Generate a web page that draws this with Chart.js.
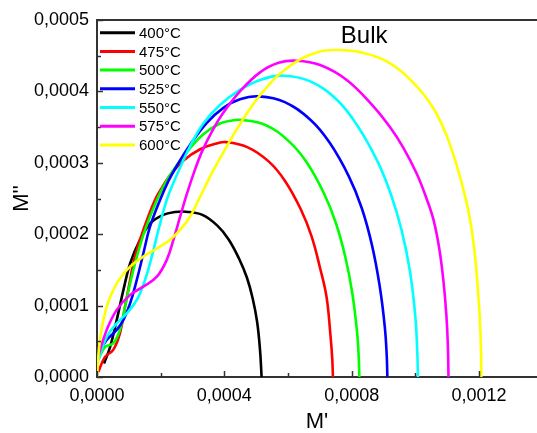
<!DOCTYPE html>
<html><head><meta charset="utf-8">
<script src="https://cdn.jsdelivr.net/npm/chart.js@4.4.1/dist/chart.umd.min.js"></script>
<style>html,body{margin:0;padding:0;background:#fff;overflow:hidden}</style>
</head><body>
<canvas id="c" width="537" height="433"></canvas>
<script>
// ---- data (M' on x, M'' on y) ----
const seriesLabels = ['400°C', '475°C', '500°C', '525°C', '550°C', '575°C', '600°C'];

const x400 = [0.22e-4,0.41e-4,0.62e-4,0.83e-4,1.04e-4,1.35e-4,1.67e-4,2.08e-4,2.45e-4,2.80e-4,3.31e-4,3.78e-4,4.13e-4,4.47e-4,4.71e-4,4.89e-4,5.03e-4,5.12e-4,5.17e-4];
const y400 = [0.19e-4,0.42e-4,0.80e-4,1.22e-4,1.59e-4,1.92e-4,2.15e-4,2.27e-4,2.31e-4,2.315e-4,2.27e-4,2.12e-4,1.93e-4,1.65e-4,1.39e-4,1.10e-4,0.77e-4,0.38e-4,0];

const x475 = [0.04e-4,0.25e-4,0.51e-4,0.72e-4,0.88e-4,1.04e-4,1.19e-4,1.455e-4,1.82e-4,2.05e-4,2.29e-4,2.71e-4,3.24e-4,3.76e-4,4.05e-4,4.72e-4,5.39e-4,5.90e-4,6.40e-4,6.74e-4,7.01e-4,7.21e-4,7.33e-4,7.39e-4,7.41e-4];
const y475 = [0.07e-4,0.28e-4,0.38e-4,0.61e-4,0.985e-4,1.36e-4,1.685e-4,2.06e-4,2.48e-4,2.66e-4,2.82e-4,3.03e-4,3.19e-4,3.27e-4,3.29e-4,3.22e-4,3.02e-4,2.75e-4,2.35e-4,1.97e-4,1.52e-4,1.12e-4,0.60e-4,0.25e-4,0];

const x500 = [0.04e-4,0.25e-4,0.51e-4,0.72e-4,0.88e-4,1.04e-4,1.25e-4,1.51e-4,1.88e-4,2.15e-4,2.45e-4,2.82e-4,3.34e-4,3.86e-4,4.20e-4,4.55e-4,5.29e-4,6.03e-4,6.58e-4,7.13e-4,7.50e-4,7.80e-4,8.02e-4,8.17e-4,8.22e-4,8.24e-4];
const y500 = [0.24e-4,0.42e-4,0.47e-4,0.66e-4,0.985e-4,1.31e-4,1.685e-4,2.06e-4,2.48e-4,2.72e-4,2.93e-4,3.15e-4,3.40e-4,3.55e-4,3.59e-4,3.60e-4,3.53e-4,3.30e-4,3.01e-4,2.57e-4,2.16e-4,1.68e-4,1.17e-4,0.62e-4,0.28e-4,0];

const x525 = [0.04e-4,0.305e-4,0.62e-4,0.83e-4,1.04e-4,1.25e-4,1.455e-4,1.665e-4,1.98e-4,2.25e-4,2.55e-4,2.92e-4,3.45e-4,3.97e-4,4.49e-4,5.10e-4,5.90e-4,6.71e-4,7.31e-4,7.91e-4,8.32e-4,8.64e-4,8.88e-4,9.04e-4,9.10e-4,9.12e-4];
const y525 = [0.33e-4,0.52e-4,0.66e-4,0.80e-4,1.03e-4,1.36e-4,1.73e-4,2.105e-4,2.48e-4,2.75e-4,2.99e-4,3.25e-4,3.56e-4,3.77e-4,3.89e-4,3.93e-4,3.85e-4,3.60e-4,3.28e-4,2.81e-4,2.36e-4,1.84e-4,1.27e-4,0.70e-4,0.30e-4,0];

const x550 = [0.04e-4,0.305e-4,0.62e-4,0.93e-4,1.25e-4,1.51e-4,1.72e-4,1.93e-4,2.19e-4,2.40e-4,2.65e-4,2.92e-4,3.34e-4,3.86e-4,4.49e-4,5.12e-4,5.85e-4,6.70e-4,7.54e-4,8.18e-4,8.81e-4,9.23e-4,9.57e-4,9.83e-4,10.00e-4,10.06e-4,10.08e-4];
const y550 = [0.24e-4,0.56e-4,0.75e-4,0.89e-4,1.08e-4,1.36e-4,1.685e-4,2.06e-4,2.48e-4,2.72e-4,2.97e-4,3.23e-4,3.55e-4,3.81e-4,4.02e-4,4.16e-4,4.22e-4,4.14e-4,3.88e-4,3.52e-4,3.02e-4,2.56e-4,2.05e-4,1.48e-4,0.84e-4,0.35e-4,0];

const x575 = [0.04e-4,0.305e-4,0.62e-4,1.04e-4,1.455e-4,1.88e-4,2.19e-4,2.40e-4,2.61e-4,2.82e-4,3.05e-4,3.30e-4,3.60e-4,3.95e-4,4.49e-4,5.10e-4,5.70e-4,6.27e-4,7.01e-4,7.845e-4,8.68e-4,9.20e-4,9.61e-4,10.04e-4,10.35e-4,10.57e-4,10.75e-4,10.88e-4,10.97e-4,11.02e-4,11.04e-4];
const y575 = [0.30e-4,0.66e-4,0.94e-4,1.15e-4,1.265e-4,1.405e-4,1.64e-4,1.92e-4,2.245e-4,2.56e-4,2.87e-4,3.16e-4,3.43e-4,3.69e-4,4.00e-4,4.26e-4,4.40e-4,4.43e-4,4.37e-4,4.16e-4,3.79e-4,3.50e-4,3.22e-4,2.85e-4,2.50e-4,2.20e-4,1.80e-4,1.35e-4,0.89e-4,0.45e-4,0];

const x600 = [0,0.094e-4,0.305e-4,0.62e-4,1.04e-4,1.455e-4,1.88e-4,2.29e-4,2.61e-4,2.92e-4,3.24e-4,3.50e-4,3.76e-4,4.18e-4,4.60e-4,5.02e-4,5.435e-4,5.75e-4,6.38e-4,7.01e-4,7.58e-4,8.26e-4,9.10e-4,9.94e-4,10.57e-4,10.99e-4,11.30e-4,11.55e-4,11.72e-4,11.86e-4,11.95e-4,12.02e-4,12.06e-4,12.07e-4];
const y600 = [0,0.52e-4,0.985e-4,1.31e-4,1.545e-4,1.685e-4,1.80e-4,1.92e-4,2.06e-4,2.245e-4,2.525e-4,2.76e-4,2.98e-4,3.31e-4,3.62e-4,3.89e-4,4.11e-4,4.25e-4,4.45e-4,4.56e-4,4.58e-4,4.55e-4,4.42e-4,4.12e-4,3.76e-4,3.37e-4,2.96e-4,2.55e-4,2.20e-4,1.75e-4,1.30e-4,0.85e-4,0.40e-4,0];

const xTickValues = [0, 0.0004, 0.0008, 0.0012];
const xTickLabels = ['0,0000', '0,0004', '0,0008', '0,0012'];
const yTickValues = [0, 0.0001, 0.0002, 0.0003, 0.0004, 0.0005];
const yTickLabels = ['0,0000', '0,0001', '0,0002', '0,0003', '0,0004', '0,0005'];
const annotationText = 'Bulk';
const annotationPos = [8.39e-4, 4.77e-4];

// ---- styles ----
const seriesColors = ['#000000', '#ff0000', '#00ff00', '#0000ff', '#00ffff', '#ff00ff', '#ffff00'];
const FONT = '"Liberation Sans", Arial, Helvetica, sans-serif';
const AXIS_COLOR = '#333333';

const xs = [x400, x475, x500, x525, x550, x575, x600];
const ys = [y400, y475, y500, y525, y550, y575, y600];

const datasets = seriesLabels.map((lab, i) => ({
  label: lab,
  data: xs[i].map((x, k) => ({x: x, y: ys[i][k]})),
  borderColor: seriesColors[i],
  backgroundColor: seriesColors[i],
  borderWidth: 2.6,
  pointRadius: 0,
  showLine: true,
  tension: 0.4,
  fill: false,
  order: seriesLabels.length - i
}));

const framePlugin = {
  id: 'frame',
  afterDatasetsDraw(chart) {
    const {ctx, chartArea: a, scales: {x, y}} = chart;
    ctx.save();
    ctx.strokeStyle = AXIS_COLOR;
    ctx.lineWidth = 1.5;
    for (let v = 0; v <= 0.00138; v += 0.0002) {
      const px = Math.round(x.getPixelForValue(v)) + 0.5;
      const major = Math.abs(Math.round(v / 0.0004) * 0.0004 - v) < 1e-9;
      const len = major ? 6 : 4;
      ctx.beginPath(); ctx.moveTo(px, a.bottom); ctx.lineTo(px, a.bottom - len); ctx.stroke();
    }
    for (let v = 0; v <= 0.0005 + 1e-9; v += 0.00005) {
      const py = Math.round(y.getPixelForValue(v)) + 0.5;
      const major = Math.abs(Math.round(v / 0.0001) * 0.0001 - v) < 1e-9;
      const len = major ? 6 : 4;
      ctx.beginPath(); ctx.moveTo(a.left, py); ctx.lineTo(a.left + len, py); ctx.stroke();
    }
    ctx.lineWidth = 2;
    ctx.beginPath(); ctx.moveTo(a.left - 1, a.top); ctx.lineTo(a.right, a.top); ctx.stroke();
    ctx.fillStyle = '#000';
    ctx.font = '24px ' + FONT;
    ctx.textAlign = 'center';
    ctx.textBaseline = 'middle';
    ctx.fillText(annotationText, x.getPixelForValue(annotationPos[0]), y.getPixelForValue(annotationPos[1]));
    ctx.font = '15px ' + FONT;
    ctx.textAlign = 'left';
    chart.data.datasets.forEach((ds, i) => {
      const ly = a.top + 12.7 + i * 18.7;
      ctx.strokeStyle = ds.borderColor;
      ctx.lineWidth = 3;
      ctx.beginPath(); ctx.moveTo(a.left + 3, ly); ctx.lineTo(a.left + 38, ly); ctx.stroke();
      ctx.fillStyle = '#000';
      ctx.fillText(ds.label, a.left + 42, ly + 1);
    });
    ctx.restore();
  }
};

new Chart(document.getElementById('c'), {
  type: 'scatter',
  data: {datasets},
  plugins: [framePlugin],
  options: {
    responsive: false,
    animation: false,
    devicePixelRatio: 1,
    layout: {padding: {top: 20, right: 0, bottom: 0, left: 0}},
    plugins: {legend: {display: false}, tooltip: {enabled: false}},
    scales: {
      x: {
        type: 'linear',
        min: 0,
        max: 0.001382,
        afterFit(s) { s.height = 56; },
        afterBuildTicks(s) { s.ticks = xTickValues.map(v => ({value: v})); },
        grid: {display: false, drawTicks: false},
        border: {display: true, color: AXIS_COLOR, width: 2},
        ticks: {
          padding: 8,
          color: '#000',
          font: {family: FONT, size: 18},
          maxRotation: 0,
          callback: (v, i) => xTickLabels[i]
        },
        title: {display: true, text: "M'", color: '#000', font: {family: FONT, size: 22, lineHeight: 1}, padding: {top: 0, bottom: 0}}
      },
      y: {
        type: 'linear',
        min: 0,
        max: 0.0005,
        afterFit(s) { s.width = 97; },
        afterBuildTicks(s) { s.ticks = yTickValues.map(v => ({value: v})); },
        grid: {display: false, drawTicks: false},
        border: {display: true, color: AXIS_COLOR, width: 2},
        ticks: {
          padding: 8,
          color: '#000',
          font: {family: FONT, size: 18},
          callback: (v, i) => yTickLabels[i]
        },
        title: {display: true, text: "M''", color: '#000', font: {family: FONT, size: 22, lineHeight: 1}, padding: {top: 11, bottom: 0}}
      }
    }
  }
});
</script>
</body></html>
